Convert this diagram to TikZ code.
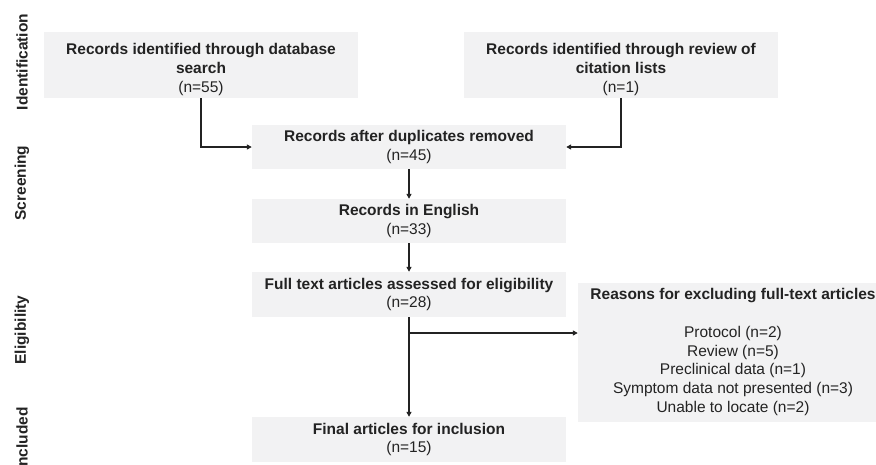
\documentclass[tikz,border=0pt]{standalone}
\usepackage{fontspec}
\setmainfont{Liberation Sans}
\usetikzlibrary{arrows.meta}
\definecolor{boxfill}{RGB}{242,242,243}
\definecolor{ink}{RGB}{35,35,35}
\begin{document}
\begin{tikzpicture}[x=1pt,y=-1pt,
  box/.style={fill=boxfill, draw=none, inner sep=0pt, align=center, text=ink,
    font=\fontsize{15.5}{18.7}\selectfont},
  arr/.style={draw=ink, line width=1.5pt, -{Triangle[length=5pt,width=5pt]}},
  side/.style={rotate=90, font=\bfseries\fontsize{15.5}{18.7}\selectfont, text=ink}]
\useasboundingbox (0,0) rectangle (876,464);

\node[box, minimum width=314pt, minimum height=66pt] (b1) at (201,65)
  {\rule{0pt}{20pt}\textbf{Records identified through database}\\\textbf{search}\\(n=55)};
\node[box, minimum width=314pt, minimum height=66pt] (b2) at (621,65)
  {\rule{0pt}{20pt}\textbf{Records identified through review of}\\\textbf{citation lists}\\(n=1)};
\node[box, minimum width=314pt, minimum height=44pt] (b3) at (409,147)
  {\textbf{Records after duplicates removed}\\(n=45)};
\node[box, minimum width=314pt, minimum height=44pt] (b4) at (409,221)
  {\textbf{Records in English}\\(n=33)};
\node[box, minimum width=314pt, minimum height=45pt] (b5) at (409,294.5)
  {\textbf{Full text articles assessed for eligibility}\\(n=28)};
\node[box, minimum width=314pt, minimum height=45pt] (b6) at (409,439.5)
  {\textbf{Final articles for inclusion}\\(n=15)};
\node[box, minimum width=310pt, minimum height=139pt] (b7) at (733,352)
  {\textbf{Reasons for excluding full-text articles}\\[18.7pt]Protocol (n=2)\\Review (n=5)\\Preclinical data (n=1)\\Symptom data not presented (n=3)\\Unable to locate (n=2)};

\node[side] (s1) at (22,62) {Identification};
\node[side] (s2) at (22,183) {Screening};
\node[side] (s3) at (22,330) {Eligibility};
\node[side] (s4) at (22,439) {Included};

\draw[arr] (b1.south) |- (b3.west);
\draw[arr] (b2.south) |- (b3.east);
\draw[arr] (b3) -- (b4);
\draw[arr] (b4) -- (b5);
\draw[arr] (b5) -- (b6);
\coordinate (br) at (409,333);
\draw[arr] (br) -- (br -| b7.west);
\end{tikzpicture}
\end{document}
